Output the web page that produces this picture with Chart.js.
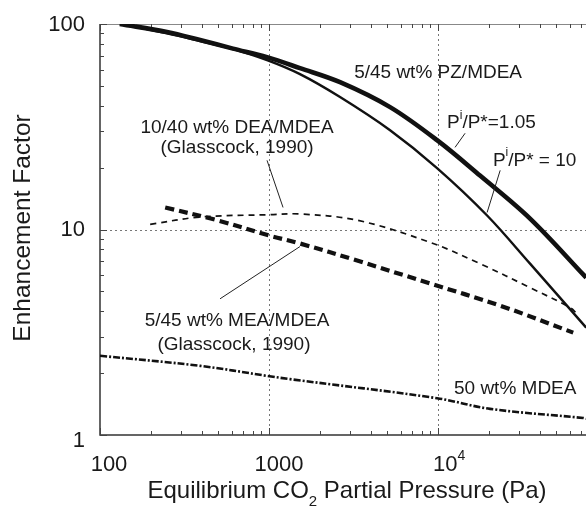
<!DOCTYPE html>
<html>
<head>
<meta charset="utf-8">
<script src="https://cdn.jsdelivr.net/npm/chart.js@4.4.1/dist/chart.umd.min.js"></script>
<style>
  html, body { margin: 0; padding: 0; background: #fff; }
  #wrap { width: 586px; height: 513px; }
</style>
</head>
<body>
<div id="wrap"><canvas id="efChart" width="586" height="513"></canvas></div>
<script>
// Series (x: Pa, y: enhancement factor)
const pzLowX  = [131, 249, 391, 612, 973, 1524, 2630, 5200, 9860, 17700, 35000, 75200];
const pzLowY  = [100, 91.4, 83.5, 75.9, 69.0, 61.0, 52.1, 39.4, 27.2, 18.3, 11.3, 5.83];

const pzHighX = [131, 249, 391, 612, 973, 1524, 2630, 5200, 9860, 19500, 35000, 75200];
const pzHighY = [100, 90, 82.6, 75.5, 66.7, 57.0, 44.1, 30.4, 19.9, 11.7, 6.82, 3.33];

const deaX = [198, 391, 1000, 1524, 3320, 8970, 17700, 35000, 60400, 66400];
const deaY = [10.6, 11.5, 11.8, 11.9, 11.1, 8.66, 6.82, 5.21, 4.17, 3.89];

const meaX = [243, 492, 1000, 1524, 3320, 8970, 23300, 63000];
const meaY = [12.8, 11.1, 9.35, 8.55, 7.06, 5.46, 4.26, 3.15];

const mdeaX = [100, 391, 973, 1330, 9860, 20300, 72100, 75000];
const mdeaY = [2.43, 2.17, 1.94, 1.87, 1.51, 1.34, 1.21, 1.2];

const xTicks = [100, 1000, 10000];
const yTicks = [1, 10, 100];
const xMinor = [200, 300, 400, 500, 600, 700, 800, 900, 2000, 3000, 4000, 5000, 6000, 7000, 8000, 9000, 20000, 30000, 40000, 50000, 60000, 70000];
const yMinor = [2, 3, 4, 5, 6, 7, 8, 9, 20, 30, 40, 50, 60, 70, 80, 90];

const FONT = '"Liberation Sans", Arial, sans-serif';

function pts(xs, ys) {
    return xs.map((x, i) => ({ x: x, y: ys[i] }));
}

// text pieces with super/subscripts
function richText(ctx, parts, x, y, size, align) {
    const small = Math.round(size * 0.62);
    let total = 0;
    parts.forEach(p => {
        ctx.font = (p.sup || p.sub ? small : size) + 'px ' + FONT;
        p.w = ctx.measureText(p.t).width;
        total += p.w;
    });
    let cx = x;
    if (align === 'center') cx = x - total / 2;
    if (align === 'right') cx = x - total;
    ctx.textAlign = 'left';
    ctx.textBaseline = 'middle';
    parts.forEach(p => {
        ctx.font = (p.sup || p.sub ? small : size) + 'px ' + FONT;
        let dy = 0;
        if (p.sup) dy = -size * 0.42;
        if (p.sub) dy = size * 0.45;
        ctx.fillText(p.t, cx, y + dy);
        cx += p.w;
    });
}

const decorPlugin = {
    id: 'decor',
    beforeDatasetsDraw(chart) {
        const ctx = chart.ctx, a = chart.chartArea;
        const xs = chart.scales.x, ys = chart.scales.y;
        ctx.save();
        // dotted grid
        ctx.strokeStyle = '#777';
        ctx.lineWidth = 1;
        ctx.setLineDash([2, 3]);
        [1000, 10000].forEach(v => {
            const px = Math.round(xs.getPixelForValue(v)) + 0.5;
            ctx.beginPath(); ctx.moveTo(px, a.top); ctx.lineTo(px, a.bottom); ctx.stroke();
        });
        const py10 = Math.round(ys.getPixelForValue(10)) + 0.5;
        ctx.beginPath(); ctx.moveTo(a.left, py10); ctx.lineTo(a.right, py10); ctx.stroke();
        // top frame
        ctx.setLineDash([]);
        ctx.strokeStyle = '#888';
        ctx.beginPath(); ctx.moveTo(a.left, a.top + 0.5); ctx.lineTo(a.right, a.top + 0.5); ctx.stroke();
        // left + bottom axes
        ctx.strokeStyle = '#333';
        ctx.lineWidth = 1.5;
        ctx.beginPath();
        ctx.moveTo(a.left, a.top); ctx.lineTo(a.left, a.bottom); ctx.lineTo(a.right, a.bottom);
        ctx.stroke();
        // ticks (inward)
        ctx.lineWidth = 1;
        ctx.strokeStyle = '#444';
        xMinor.concat(xTicks).forEach(v => {
            const px = Math.round(xs.getPixelForValue(v)) + 0.5;
            const len = xTicks.includes(v) ? 7 : 4;
            ctx.beginPath();
            ctx.moveTo(px, a.bottom); ctx.lineTo(px, a.bottom - len);
            ctx.moveTo(px, a.top); ctx.lineTo(px, a.top + len);
            ctx.stroke();
        });
        yMinor.concat(yTicks).forEach(v => {
            const py = Math.round(ys.getPixelForValue(v)) + 0.5;
            const len = yTicks.includes(v) ? 7 : 4;
            ctx.beginPath(); ctx.moveTo(a.left, py); ctx.lineTo(a.left + len, py); ctx.stroke();
        });
        ctx.restore();
    },
    afterDatasetsDraw(chart) {
        const ctx = chart.ctx;
        const xs = chart.scales.x, ys = chart.scales.y;
        const X = v => xs.getPixelForValue(v), Y = v => ys.getPixelForValue(v);
        ctx.save();
        ctx.fillStyle = '#1a1a1a';

        // tick labels
        richText(ctx, [{ t: '100' }], X(100) + 9, 465, 22, 'center');
        richText(ctx, [{ t: '1000' }], X(1000) + 10, 465, 22, 'center');
        richText(ctx, [{ t: '10' }, { t: '4', sup: true }], X(10000) + 11, 465, 22, 'center');
        richText(ctx, [{ t: '100' }], 85, Y(100) + 1, 22, 'right');
        richText(ctx, [{ t: '10' }], 85, Y(10), 22, 'right');
        richText(ctx, [{ t: '1' }], 85, Y(1) + 6, 22, 'right');

        // axis titles
        richText(ctx, [{ t: 'Equilibrium CO' }, { t: '2', sub: true }, { t: ' Partial Pressure (Pa)' }], 347, 491, 24, 'center');
        ctx.save();
        ctx.translate(23, 228);
        ctx.rotate(-Math.PI / 2);
        richText(ctx, [{ t: 'Enhancement Factor' }], 0, 0, 24.5, 'center');
        ctx.restore();

        // curve labels
        const fs = 19;
        richText(ctx, [{ t: '5/45 wt% PZ/MDEA' }], X(10000), Y(58), fs, 'center');
        richText(ctx, [{ t: 'P' }, { t: 'i', sup: true }, { t: '/P*=1.05' }], X(11300), Y(32.9), fs, 'left');
        richText(ctx, [{ t: 'P' }, { t: 'i', sup: true }, { t: '/P* = 10' }], X(21100), Y(21.7), fs, 'left');
        richText(ctx, [{ t: '10/40 wt% DEA/MDEA' }], X(647), Y(31.1), fs, 'center');
        richText(ctx, [{ t: '(Glasscock, 1990)' }], X(647), Y(25.1), fs, 'center');
        richText(ctx, [{ t: '5/45 wt% MEA/MDEA' }], X(647), Y(3.6), fs, 'center');
        richText(ctx, [{ t: '(Glasscock, 1990)' }], X(620), Y(2.75), fs, 'center');
        richText(ctx, [{ t: '50 wt% MDEA' }], X(28600), Y(1.675), fs, 'center');

        // leader lines
        ctx.strokeStyle = '#222';
        ctx.lineWidth = 1;
        [[14450, 29.4, 12600, 25.1], [23300, 19.4, 19500, 12.1], [973, 21.7, 1210, 12.8], [513, 4.6, 1524, 8.26]]
            .forEach(l => {
                ctx.beginPath(); ctx.moveTo(X(l[0]), Y(l[1])); ctx.lineTo(X(l[2]), Y(l[3])); ctx.stroke();
            });
        ctx.restore();
    }
};

const lineDefaults = { showLine: true, pointRadius: 0, borderColor: '#111', fill: false, tension: 0.35 };

new Chart(document.getElementById('efChart').getContext('2d'), {
    type: 'scatter',
    data: {
        datasets: [
            Object.assign({ label: 'PZ/MDEA 1.05', data: pts(pzLowX, pzLowY), borderWidth: 4.6 }, lineDefaults),
            Object.assign({ label: 'PZ/MDEA 10', data: pts(pzHighX, pzHighY), borderWidth: 2.4 }, lineDefaults),
            Object.assign({ label: 'DEA/MDEA', data: pts(deaX, deaY), borderWidth: 1.7, borderDash: [6, 5] }, lineDefaults),
            Object.assign({ label: 'MEA/MDEA', data: pts(meaX, meaY), borderWidth: 4.2, borderDash: [9, 5] }, lineDefaults),
            Object.assign({ label: 'MDEA', data: pts(mdeaX, mdeaY), borderWidth: 2.6, borderDash: [7, 2, 2, 2] }, lineDefaults)
        ]
    },
    options: {
        responsive: false,
        animation: false,
        layout: { padding: { top: 24, right: 0, left: 0, bottom: 0 } },
        plugins: { legend: { display: false }, tooltip: { enabled: false } },
        scales: {
            x: {
                type: 'logarithmic', min: 100, max: 75000,
                grid: { display: false }, border: { display: false }, ticks: { display: false },
                afterFit: s => { s.height = 78; }
            },
            y: {
                type: 'logarithmic', min: 1, max: 100,
                grid: { display: false }, border: { display: false }, ticks: { display: false },
                afterFit: s => { s.width = 100; }
            }
        }
    },
    plugins: [decorPlugin]
});
</script>
</body>
</html>
